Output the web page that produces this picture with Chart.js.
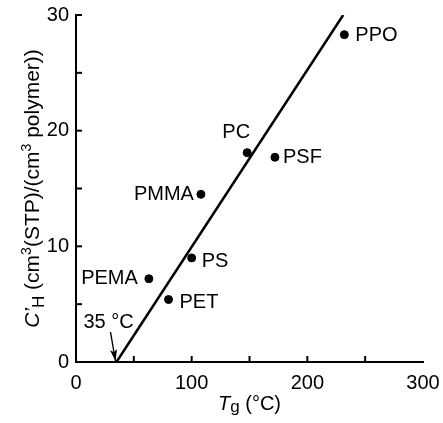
<!DOCTYPE html>
<html>
<head>
<meta charset="utf-8">
<script src="https://cdn.jsdelivr.net/npm/chart.js@4.4.1/dist/chart.umd.min.js"></script>
<style>
  html, body { margin: 0; padding: 0; background: #fff; }
  #wrap { width: 443px; height: 423px; position: relative; }
</style>
</head>
<body>
<div id="wrap"><canvas id="chart"></canvas></div>
<script>
// Polymer data
const polymers = ['PPO', 'PC', 'PSF', 'PMMA', 'PS', 'PEMA', 'PET'];
const tgValues = [232, 148, 172, 108, 100, 63, 80];
const chValues = [28.3, 18.1, 17.7, 14.5, 9.0, 7.2, 5.4];

// Fitted line, crossing zero at 35 °C
const fitTg = [35, 231];
const fitCh = [0, 30];

const xTicks = [0, 100, 200, 300];
const yTicks = [0, 10, 20, 30];

// where each label sits relative to its point (px)
const labelPlace = {
  PPO:  { dx: 11, dy: 1, align: 'left' },
  PC:   { dx: -11, dy: -20, align: 'center' },
  PSF:  { dx: 8, dy: 0, align: 'left' },
  PMMA: { dx: -7, dy: 0, align: 'right' },
  PS:   { dx: 10, dy: 4, align: 'left' },
  PEMA: { dx: -11, dy: 0, align: 'right' },
  PET:  { dx: 11, dy: 3, align: 'left' }
};

const FONT = '"Liberation Sans", Arial, Helvetica, sans-serif';

function drawRuns(ctx, runs, x, y, align) {
  // runs: {text, size, italic, shift}
  let total = 0;
  runs.forEach(r => {
    ctx.font = (r.italic ? 'italic ' : '') + r.size + 'px ' + FONT;
    r.w = ctx.measureText(r.text).width;
    total += r.w;
  });
  let cx = align === 'center' ? x - total / 2 : x;
  ctx.textAlign = 'left';
  ctx.textBaseline = 'alphabetic';
  runs.forEach(r => {
    ctx.font = (r.italic ? 'italic ' : '') + r.size + 'px ' + FONT;
    ctx.fillText(r.text, cx, y + (r.shift || 0));
    cx += r.w;
  });
}

const decorations = {
  id: 'decorations',
  afterDraw(chart) {
    const ctx = chart.ctx;
    const xs = chart.scales.x, ys = chart.scales.y;
    const area = chart.chartArea;
    ctx.save();
    ctx.strokeStyle = '#000';
    ctx.fillStyle = '#000';

    // inward tick marks, major and minor
    ctx.lineWidth = 2;
    for (let v = 50; v < 300; v += 50) {
      const px = xs.getPixelForValue(v);
      ctx.beginPath();
      ctx.moveTo(px, area.bottom);
      ctx.lineTo(px, area.bottom - 6);
      ctx.stroke();
    }
    for (let v = 5; v <= 30; v += 5) {
      const py = ys.getPixelForValue(v);
      ctx.beginPath();
      ctx.moveTo(area.left, py);
      ctx.lineTo(area.left + 6, py);
      ctx.stroke();
    }

    // point labels
    ctx.font = '20px ' + FONT;
    ctx.textBaseline = 'middle';
    polymers.forEach((name, i) => {
      const p = labelPlace[name];
      const px = xs.getPixelForValue(tgValues[i]);
      const py = ys.getPixelForValue(chValues[i]);
      ctx.textAlign = p.align;
      ctx.fillText(name, px + p.dx, py + p.dy);
    });

    // 35 °C annotation with arrow
    const tipX = xs.getPixelForValue(fitTg[0]) - 1;
    const tipY = ys.getPixelForValue(0) - 1;
    const tailX = tipX - 5, tailY = tipY - 29;
    ctx.lineWidth = 1.4;
    ctx.beginPath();
    ctx.moveTo(tailX, tailY);
    ctx.lineTo(tipX, tipY);
    ctx.stroke();
    const ang = Math.atan2(tipY - tailY, tipX - tailX);
    const hl = 12, hw = 0.3;
    ctx.beginPath();
    ctx.moveTo(tipX, tipY);
    ctx.lineTo(tipX - hl * Math.cos(ang - hw), tipY - hl * Math.sin(ang - hw));
    ctx.lineTo(tipX - hl * 0.75 * Math.cos(ang), tipY - hl * 0.75 * Math.sin(ang));
    ctx.lineTo(tipX - hl * Math.cos(ang + hw), tipY - hl * Math.sin(ang + hw));
    ctx.closePath();
    ctx.fill();
    ctx.font = '20px ' + FONT;
    ctx.textAlign = 'left';
    ctx.textBaseline = 'middle';
    ctx.fillText('35 \u00B0C', tipX - 32, tipY - 39);

    // x axis title: Tg (°C)
    const cx = (area.left + area.right) / 2;
    drawRuns(ctx, [
      { text: 'T', size: 20, italic: true },
      { text: 'g', size: 17, shift: 2 },
      { text: ' (\u00B0C)', size: 20 }
    ], cx, 410, 'center');

    // y axis title: C'H (cm3(STP)/(cm3 polymer))
    ctx.translate(39, (area.top + area.bottom) / 2);
    ctx.rotate(-Math.PI / 2);
    drawRuns(ctx, [
      { text: 'C\u2019', size: 21, italic: true },
      { text: 'H', size: 17, shift: 5 },
      { text: ' (cm', size: 21 },
      { text: '3', size: 14, shift: -8 },
      { text: '(STP)/(cm', size: 21 },
      { text: '3', size: 14, shift: -8 },
      { text: ' polymer))', size: 21 }
    ], 0, 0, 'center');
    ctx.restore();
  }
};

// drop the automatic label overflow padding so the layout padding rules
function noScalePad(s) {
  s.paddingTop = 0;
  s.paddingBottom = 0;
  s.paddingLeft = 0;
  s.paddingRight = 0;
}

new Chart(document.getElementById('chart'), {
  type: 'scatter',
  data: {
    datasets: [{
      label: 'Polymers',
      data: tgValues.map((t, i) => ({ x: t, y: chValues[i] })),
      backgroundColor: '#000',
      borderColor: '#000',
      pointRadius: 4,
      pointHoverRadius: 4
    }, {
      label: 'Fit',
      data: fitTg.map((t, i) => ({ x: t, y: fitCh[i] })),
      showLine: true,
      borderColor: '#000',
      borderWidth: 2.5,
      pointRadius: 0
    }]
  },
  options: {
    responsive: true,
    maintainAspectRatio: false,
    animation: false,
    events: [],
    layout: { padding: { left: 0, right: 20, top: 15, bottom: 0 } },
    plugins: {
      legend: { display: false },
      tooltip: { enabled: false }
    },
    scales: {
      x: {
        type: 'linear',
        min: 0,
        max: 300,
        afterBuildTicks: s => { s.ticks = xTicks.map(v => ({ value: v })); },
        afterFit: s => { s.height = 61; noScalePad(s); },
        grid: { display: false, drawTicks: false },
        border: { display: true, color: '#000', width: 2 },
        ticks: { color: '#000', padding: 9, font: { size: 20, family: FONT } }
      },
      y: {
        type: 'linear',
        min: 0,
        max: 30,
        afterBuildTicks: s => { s.ticks = yTicks.map(v => ({ value: v })); },
        afterFit: s => { s.width = 76; noScalePad(s); },
        grid: { display: false, drawTicks: false },
        border: { display: true, color: '#000', width: 2 },
        ticks: { color: '#000', padding: 7, font: { size: 20, family: FONT } }
      }
    }
  },
  plugins: [decorations]
});
</script>
</body>
</html>
